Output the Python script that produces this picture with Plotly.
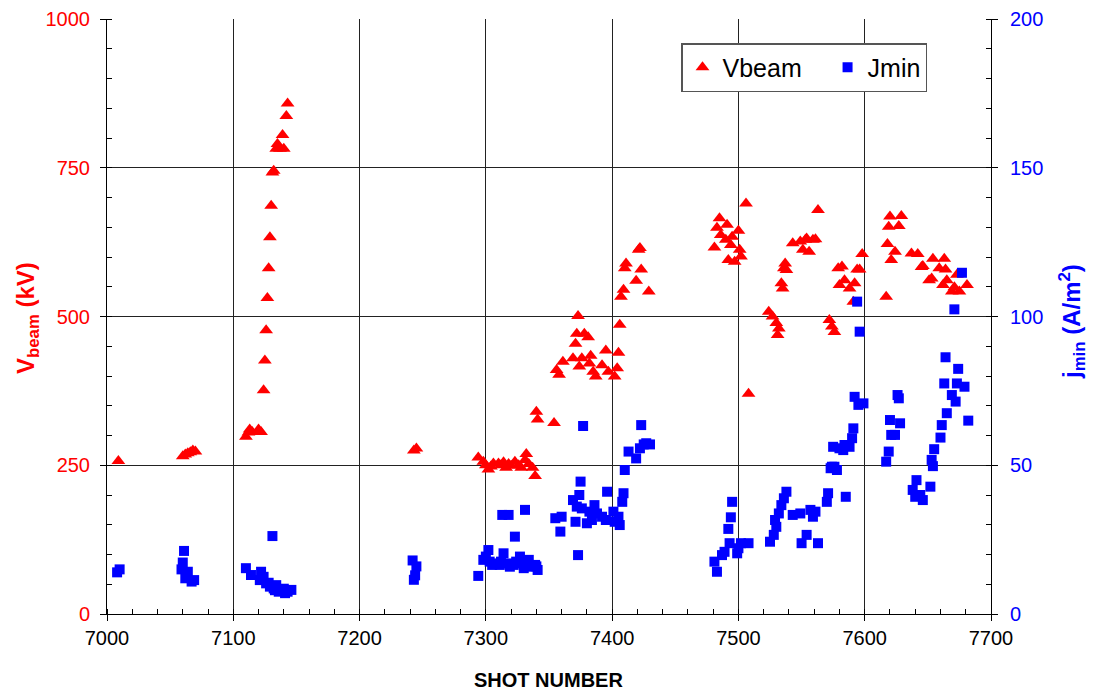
import plotly.graph_objects as go

# ---- Vbeam (kV) ----
v_shot = [7009,
          7060, 7062, 7064, 7066, 7068, 7070,
          7110, 7112, 7113, 7115, 7120, 7122,
          7124, 7125, 7126, 7127, 7128, 7129, 7130, 7131, 7132, 7134, 7135, 7137, 7139, 7140, 7142, 7143,
          7243, 7245,
          7294, 7298, 7300, 7302, 7304, 7306, 7310, 7312, 7314, 7316, 7318, 7320, 7323, 7326, 7328,
          7331, 7332, 7334, 7337, 7339, 7340, 7341, 7354,
          7356, 7358, 7361, 7369, 7371, 7372, 7373, 7374, 7376, 7378, 7381, 7382, 7383, 7385, 7387,
          7392, 7395, 7397, 7402, 7404, 7405, 7406, 7407, 7409, 7410, 7411, 7419, 7421, 7422, 7423, 7429,
          7481, 7483, 7485, 7486, 7490, 7491, 7492, 7494, 7495, 7497, 7500, 7501, 7502, 7506, 7508,
          7524, 7527, 7530, 7531, 7532, 7534, 7535, 7536, 7537, 7538, 7543, 7549, 7551, 7553, 7554,
          7556, 7559, 7561, 7563, 7572, 7574, 7576, 7579, 7580, 7582, 7584, 7588, 7591, 7592, 7594,
          7596, 7598,
          7617, 7618, 7619, 7620, 7621, 7624, 7627, 7629, 7637, 7642, 7645, 7646, 7651, 7653, 7654,
          7659, 7662, 7663, 7664, 7665, 7669, 7671, 7673, 7675, 7681]
v_kv = [257,
        265, 268, 270, 272, 275, 273,
        298, 305, 310, 306, 310, 306,
        376, 426, 477, 531, 581, 633, 686, 742, 745, 782, 790, 782, 805, 782, 837, 858,
        275, 278,
        263, 256, 250, 243, 248, 253, 253, 250, 255, 246, 252, 249, 256, 250, 246,
        259, 269, 252, 246, 232, 340, 327, 321,
        410, 402, 424, 430, 454, 471, 501, 416, 430, 471, 465, 421, 434, 407, 399,
        418, 443, 407, 399, 413, 439, 486, 533, 545, 581, 589, 560, 612, 615, 579, 542,
        616, 649, 665, 637, 629, 654, 595, 620, 634, 592, 644, 612, 601, 690, 370,
        508, 500, 489, 469, 480, 556, 547, 581, 589, 578, 623, 626, 612, 629, 631,
        609, 629, 630, 679, 494, 483, 474, 581, 553, 584, 561, 547, 525, 556, 579,
        579, 605,
        533, 622, 651, 668, 595, 609, 652, 669, 606, 605, 583, 585, 561, 564, 597,
        581, 553, 597, 579, 561, 542, 549, 570, 542, 553]

# ---- Jmin (A/m^2) ----
j_shot = [7008, 7010,
          7059, 7060, 7061, 7062, 7064, 7067, 7069,
          7110, 7114, 7121, 7122, 7124, 7126, 7128, 7129, 7131, 7132, 7133, 7134, 7136, 7138, 7140,
          7141, 7143, 7146,
          7242, 7243, 7244, 7245,
          7294, 7298, 7300, 7302, 7303, 7305, 7307, 7311, 7312, 7313, 7314, 7317, 7318, 7319, 7322,
          7323, 7324, 7327, 7328, 7330, 7331, 7334, 7335, 7339, 7340, 7341,
          7355, 7359, 7360, 7369, 7371, 7372, 7373, 7374, 7375, 7376, 7377, 7380, 7382, 7384, 7386,
          7388, 7392, 7395, 7396, 7401, 7402, 7405, 7406, 7408, 7409, 7410, 7413, 7419, 7422, 7423,
          7425, 7427, 7430,
          7481, 7483, 7487, 7489, 7492, 7493, 7494, 7495, 7499, 7500, 7502, 7508,
          7525, 7528, 7529, 7530, 7532, 7534, 7536, 7538, 7543, 7549, 7550, 7554, 7557, 7559, 7561,
          7563, 7570, 7571, 7573, 7574, 7575, 7576, 7578, 7580, 7583, 7584, 7585, 7588, 7590, 7591,
          7592, 7594, 7595, 7596, 7599,
          7617, 7619, 7620, 7621, 7624, 7626, 7627, 7628,
          7638, 7640, 7641, 7644, 7646, 7652, 7653, 7654, 7655, 7660, 7661, 7663, 7664, 7665, 7669,
          7671, 7672, 7673, 7674, 7677, 7679, 7682]
j_min = [14.0, 15.0,
         15.0, 17.3, 21.2, 12.0, 14.2, 10.9, 11.4,
         15.4, 13.1, 11.4, 14.2, 12.5, 10.3, 10.5, 9.2, 26.2, 8.6, 8.0, 9.7, 7.5, 8.1, 8.5,
         7.0, 7.5, 8.1,
         18.0, 11.5, 13.0, 16.0,
         12.8, 18.2, 19.3, 21.5, 17.6, 16.5, 17.0, 16.5, 17.6, 33.3, 20.4, 17.0, 33.3, 15.9, 16.5,
         26.0, 17.6, 19.3, 17.0, 15.4, 35.0, 18.2, 15.9, 16.5, 16.0, 14.8,
         32.2, 27.7, 32.7, 38.3, 31.0, 36.1, 19.8, 40.0, 44.5, 35.5, 63.2, 30.5, 34.4, 31.6, 36.6,
         33.8, 32.7, 31.6, 41.1, 34.4, 31.0, 32.7, 29.9, 37.7, 40.6, 48.4, 54.6, 52.3, 55.7, 63.5,
         57.0, 57.4, 57.0,
         17.6, 14.2, 19.8, 20.9, 28.6, 23.8, 32.5, 37.7, 20.4, 22.1, 23.8, 23.8,
         24.3, 26.6, 31.6, 29.3, 33.8, 36.6, 38.9, 41.1, 33.3, 33.8, 23.8, 26.6, 35.0, 32.7, 34.4,
         23.8, 37.7, 40.6, 49.0, 49.5, 56.2, 49.5, 48.4, 55.7, 55.1, 56.8, 39.4, 56.2, 59.1, 62.4,
         73.0, 105.0, 70.3, 94.9, 70.8,
         51.2, 54.6, 65.2, 60.2, 60.2, 73.6, 72.5, 64.1,
         41.7, 39.4, 45.0, 40.0, 38.3, 42.8, 51.8, 49.7, 55.4, 59.3, 63.5, 77.5, 86.3, 67.5, 73.6,
         102.4, 71.4, 77.5, 82.4, 114.7, 76.4, 65.0]

FONT = "Liberation Sans, Arial, sans-serif"
NBSP = "\u00a0"

fig = go.Figure()
fig.add_trace(go.Scatter(
    x=v_shot, y=v_kv, mode="markers", name="Vbeam" + NBSP * 3,
    marker=dict(symbol="triangle-up", size=12, color="#FF0000", line=dict(width=0)),
    yaxis="y"))
fig.add_trace(go.Scatter(
    x=j_shot, y=j_min, mode="markers", name="Jmin",
    marker=dict(symbol="square", size=10, color="#0000FF", line=dict(width=0)),
    yaxis="y2"))

fig.update_layout(
    width=1093, height=695,
    margin=dict(l=107, r=102, t=19, b=81, autoexpand=False),
    paper_bgcolor="white", plot_bgcolor="white",
    font=dict(family=FONT, color="black"),
    showlegend=True,
    legend=dict(
        orientation="h", x=(681 - 107) / 884, y=(614 - 43) / 595,
        xanchor="left", yanchor="top",
        bgcolor="white", bordercolor="#555555", borderwidth=1.5,
        font=dict(size=25, color="black", family=FONT),
        itemwidth=30, tracegroupgap=0,
    ),
    xaxis=dict(
        range=[7000, 7700], dtick=100, tick0=7000,
        showgrid=True, gridcolor="#222222", gridwidth=1,
        showline=True, linecolor="black", linewidth=1, mirror=False,
        ticks="outside", ticklen=6, tickcolor="black",
        minor=dict(dtick=20, ticks="inside", ticklen=5, tickcolor="black", showgrid=False),
        tickfont=dict(size=20, color="black", family=FONT),
        zeroline=False,
    ),
    yaxis=dict(
        range=[0, 1000], dtick=250, tick0=0,
        showgrid=True, gridcolor="#222222", gridwidth=1,
        showline=True, linecolor="black", linewidth=1,
        ticks="outside", ticklen=6, tickcolor="black",
        minor=dict(dtick=50, ticks="inside", ticklen=5, tickcolor="black", showgrid=False),
        tickfont=dict(size=20, color="#FF0000", family=FONT),
        ticklabelstandoff=6,
        zeroline=False,
    ),
    yaxis2=dict(
        range=[0, 200], dtick=50, tick0=0,
        overlaying="y", side="right",
        showgrid=False,
        showline=True, linecolor="black", linewidth=1,
        ticks="outside", ticklen=6, tickcolor="black",
        minor=dict(dtick=10, ticks="inside", ticklen=5, tickcolor="black", showgrid=False),
        tickfont=dict(size=20, color="#0000FF", family=FONT),
        ticklabelstandoff=8,
        zeroline=False,
    ),
)

fig.add_annotation(
    text="<b>SHOT NUMBER</b>", xref="paper", yref="paper",
    x=(548 - 107) / 884, y=(614 - 680) / 595, xanchor="center", yanchor="middle",
    showarrow=False, font=dict(size=20, color="black", family=FONT))
fig.add_annotation(
    text="<b>V<sub>beam</sub> (kV)</b>", xref="paper", yref="paper",
    x=(27 - 107) / 884, y=(614 - 318) / 595, xanchor="center", yanchor="middle",
    textangle=-90, showarrow=False,
    font=dict(size=24, color="#FF0000", family=FONT))
fig.add_annotation(
    text="<b>j<sub>min</sub> (A/m<sup>2</sup>)</b>", xref="paper", yref="paper",
    x=(1072 - 107) / 884, y=(614 - 322) / 595, xanchor="center", yanchor="middle",
    textangle=-90, showarrow=False,
    font=dict(size=24, color="#0000FF", family=FONT))

fig.write_html("out.html")
